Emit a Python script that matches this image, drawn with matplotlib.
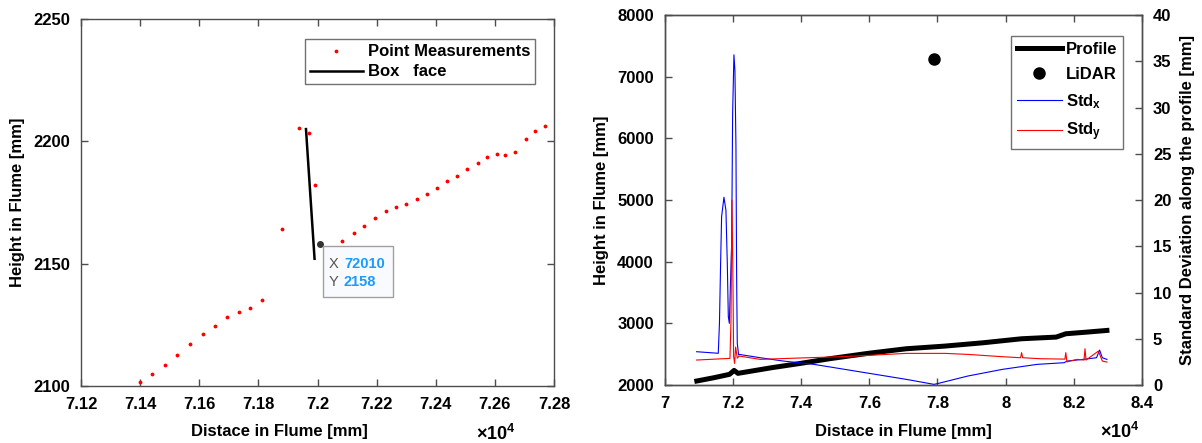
import matplotlib
matplotlib.use("Agg")
import matplotlib.pyplot as plt
from matplotlib.ticker import FuncFormatter, MultipleLocator
from matplotlib.patches import Rectangle

plt.rcParams['font.family'] = ['Liberation Sans', 'DejaVu Sans']
plt.rcParams['font.weight'] = 'bold'
plt.rcParams['axes.labelweight'] = 'bold'
plt.rcParams['mathtext.fontset'] = 'custom'
plt.rcParams['mathtext.rm'] = 'Liberation Sans:bold'
plt.rcParams['mathtext.bf'] = 'Liberation Sans:bold'
plt.rcParams['mathtext.it'] = 'Liberation Sans:bold'

# --- left panel: point measurements around the box face ---
pt_x = [71399, 71440, 71483, 71525, 71570, 71612, 71654, 71695, 71733, 71772,
        71812, 71879, 71939, 71971, 71992, 72010, 72083, 72123, 72157, 72196,
        72232, 72267, 72301, 72335, 72369, 72404, 72439, 72472, 72507, 72542,
        72575, 72606, 72635, 72669, 72704, 72737, 72770]
pt_y = [2101.8, 2104.9, 2108.6, 2112.5, 2117.0, 2121.4, 2124.6, 2128.1, 2130.2, 2131.8,
        2135.2, 2164.2, 2205.3, 2203.6, 2182.3, 2158.0, 2159.3, 2162.4, 2165.4, 2168.5,
        2171.5, 2173.2, 2174.5, 2176.6, 2178.3, 2181.0, 2183.6, 2186.0, 2188.7, 2191.1,
        2193.6, 2194.9, 2194.4, 2195.7, 2201.0, 2204.2, 2206.1]
box_x = [71961, 71990]
box_y = [2205, 2152]
tip_x, tip_y = 72010, 2158

# --- right panel: profile, lidar position and standard deviations ---
prof_x = [70936, 71444, 71895, 72030, 72143, 73136, 73982, 74828, 75956, 77084,
          78212, 79340, 80468, 81484, 81766, 82386, 82973]
prof_y = [2065, 2119, 2173, 2237, 2189, 2281, 2351, 2426, 2513, 2588,
          2631, 2685, 2750, 2777, 2831, 2858, 2885]
lidar_x, lidar_y = 77896, 7290

stdx_x = [70930, 71565, 71600, 71634, 71663, 71732, 71790, 71830, 71860, 71890,
          71918, 71958, 71987, 72025, 72054, 72084, 72104, 72123, 72163, 72177,
          72798, 73474, 74377, 75280, 76182, 77085, 77897, 77987, 78889, 79904,
          80920, 81710, 81822, 82273, 82668, 82758, 82838, 82973]
stdx_y = [3.6, 3.43, 6.67, 13.2, 18.2, 20.3, 18.9, 13.2, 7.4, 6.67,
          10.3, 15.3, 29.4, 35.7, 34.0, 25.8, 11.7, 4.5, 3.24, 3.31,
          2.95, 2.59, 2.23, 1.69, 1.15, 0.61, 0.07, 0.14, 0.97, 1.69,
          2.23, 2.41, 2.6, 2.77, 2.95, 3.78, 2.95, 2.77]

stdy_x = [70930, 71908, 71937, 71967, 71996, 72016, 72045, 72075, 72123, 72177,
          72798, 73400, 74200, 75100, 75956, 77084, 78212, 78889, 79904, 80440,
          80468, 80500, 81033, 81740, 81766, 81800, 82100, 82300, 82330, 82360,
          82724, 82838, 82973]
stdy_y = [2.7, 2.88, 6.67, 20.0, 11.35, 3.06, 2.34, 4.1, 2.9, 3.13,
          2.77, 2.85, 2.95, 3.05, 3.2, 3.42, 3.42, 3.31, 3.06, 2.95,
          3.5, 2.95, 2.84, 2.8, 3.5, 2.5, 2.77, 2.7, 3.92, 2.7,
          3.67, 2.59, 2.48]

fig = plt.figure(figsize=(12.02, 4.43), dpi=100)
ax1 = fig.add_axes([0.0674, 0.1287, 0.3935, 0.8284])
ax2 = fig.add_axes([0.5532, 0.1309, 0.3968, 0.8352])

spine_col = '#4d4d4d'
fmt = FuncFormatter(lambda v, p: '%g' % round(v / 1e4, 4))


def style(ax):
    for s in ax.spines.values():
        s.set_color(spine_col)
        s.set_linewidth(1.0)
    ax.tick_params(direction='in', length=5, width=1, color=spine_col,
                   labelsize=12, pad=8, labelcolor='black')
    ax.xaxis.set_major_formatter(fmt)


# left panel
ax1.plot(pt_x, pt_y, linestyle='none', marker='.', color='red', markersize=3.5,
         label='Point Measurements')
ax1.plot(box_x, box_y, color='black', linewidth=1.8, label='Box   face')
ax1.plot([tip_x], [tip_y], marker='o', color='#333333', markersize=4)
ax1.set_xlim(71200, 72800)
ax1.set_ylim(2100, 2250)
ax1.xaxis.set_major_locator(MultipleLocator(200))
ax1.yaxis.set_major_locator(MultipleLocator(50))
style(ax1)
ax1.tick_params(top=True, right=True)
ax1.set_ylabel('Height in Flume [mm]', fontsize=12, labelpad=6)
ax1.set_xlabel('Distace in Flume [mm]', fontsize=12)
ax1.xaxis.set_label_coords(0.42, -0.104)
ax1.text(0.835, -0.131, r'$\times$10$^{4}$', transform=ax1.transAxes,
         fontsize=13, va='center', ha='left')
leg1 = ax1.legend(loc='upper right', bbox_to_anchor=(0.978, 0.967), fontsize=12,
                  frameon=True, fancybox=False, edgecolor=spine_col,
                  borderpad=0.3, handlelength=3.2, handletextpad=0.3,
                  labelspacing=0.3, markerscale=1.0)
leg1.get_frame().set_linewidth(1.0)

# data tip box
ax1.add_patch(Rectangle((0.512, 0.242), 0.147, 0.139, transform=ax1.transAxes,
                        facecolor='#f8fafd', edgecolor='#a0a0a0', linewidth=1.0,
                        zorder=5))
for yy, key, val in [(0.333, 'X', str(tip_x)), (0.283, 'Y', str(tip_y))]:
    ax1.text(0.524, yy, key, transform=ax1.transAxes, fontsize=10.5,
             fontweight='normal', color='#555555', va='center', zorder=6)
    ax1.text(0.556, yy, val, transform=ax1.transAxes, fontsize=10.5,
             color='#1a9bff', va='center', zorder=6)

# right panel
ax3 = ax2.twinx()
l_prof, = ax2.plot(prof_x, prof_y, color='black', linewidth=3.6, label='Profile')
l_lid, = ax2.plot([lidar_x], [lidar_y], linestyle='none', marker='o',
                  markersize=7, color='black', markeredgewidth=2, label='LiDAR')
l_sx, = ax3.plot(stdx_x, stdx_y, color='blue', linewidth=0.8, label=r'Std$_\mathbf{x}$')
l_sy, = ax3.plot(stdy_x, stdy_y, color='red', linewidth=0.8, label=r'Std$_\mathbf{y}$')
ax2.set_xlim(70000, 84000)
ax2.set_ylim(2000, 8000)
ax3.set_ylim(0, 40)
ax2.xaxis.set_major_locator(MultipleLocator(2000))
ax2.yaxis.set_major_locator(MultipleLocator(1000))
ax3.yaxis.set_major_locator(MultipleLocator(5))
style(ax2)
style(ax3)
ax2.tick_params(top=True)
ax2.set_ylabel('Height in Flume [mm]', fontsize=12, labelpad=6)
ax3.set_ylabel('Standard Deviation along the profile [mm]', fontsize=12, labelpad=6)
ax2.set_xlabel('Distace in Flume [mm]', fontsize=12)
ax2.xaxis.set_label_coords(0.5, -0.105)
ax2.text(0.912, -0.127, r'$\times$10$^{4}$', transform=ax2.transAxes,
         fontsize=13, va='center', ha='left')
leg2 = ax3.legend(handles=[l_prof, l_lid, l_sx, l_sy], loc='upper right',
                  bbox_to_anchor=(0.978, 0.965), fontsize=12, frameon=True,
                  fancybox=False, edgecolor=spine_col, borderpad=0.35,
                  handlelength=2.7, handletextpad=0.25, labelspacing=0.6)
leg2.get_frame().set_linewidth(1.0)

fig.savefig('out.png', dpi=100)
